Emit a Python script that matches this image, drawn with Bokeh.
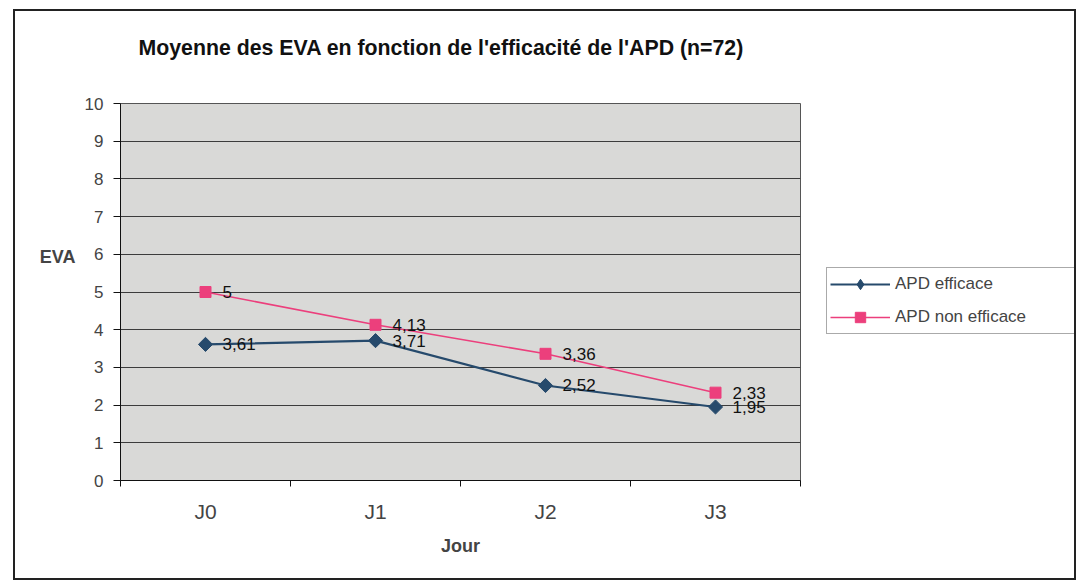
from bokeh.plotting import figure
from bokeh.models import Range1d, FixedTicker, LinearAxis, Legend, LegendItem, ColumnDataSource, Title
from bokeh.layouts import row
from bokeh.core.properties import value
from bokeh.embed import file_html
from bokeh.resources import INLINE

# ---- data ----
days = ["J0", "J1", "J2", "J3"]
efficace = [3.61, 3.71, 2.52, 1.95]
non_efficace = [5, 4.13, 3.36, 2.33]
y_ticks = list(range(0, 11))
title_text = "Moyenne des EVA en fonction de l'efficacité de l'APD (n=72)"
series_names = ["APD efficace", "APD non efficace"]
y_title = "EVA"
x_title = "Jour"

FONT = "Liberation Sans"
NAVY = "#264a6c"
PINK = "#ec3f7c"

xpos = [i + 0.5 for i in range(len(days))]
boundaries = list(range(len(days) + 1))


def fmt(v):
    return f"{v:g}".replace(".", ",")


src_a = ColumnDataSource(dict(x=xpos, y=efficace, lab=[fmt(v) for v in efficace]))
src_b = ColumnDataSource(dict(x=xpos, y=non_efficace, lab=[fmt(v) for v in non_efficace]))

STYLE_A = dict(color=NAVY, line_width=2.2)
STYLE_B = dict(color=PINK, line_width=1.6)
MARK_A = dict(marker="square", angle=0.785398, size=10, color=NAVY)
MARK_B = dict(marker="square", size=11, color=PINK)

p = figure(width=786, height=567,
           x_range=Range1d(0, len(days)), y_range=Range1d(0, 10),
           output_backend="svg", toolbar_location=None,
           min_border_left=105, min_border_right=1, min_border_bottom=98, min_border_top=92,
           background_fill_color="#d9d9d7", border_fill_color="white",
           outline_line_color="#555555", outline_line_width=1)

# titles (spacer first so the real title sits further from the frame)
p.add_layout(Title(text=" ", text_font_size="24px", text_font=FONT), "above")
p.add_layout(Title(text=title_text, text_font_size="21.3px", text_font=FONT,
                   text_font_style="bold", align="left", offset=18, text_color="#111111"), "above")

# y axis
ya = p.yaxis[0]
ya.ticker = FixedTicker(ticks=y_ticks)
ya.major_tick_out = 7
ya.major_tick_in = 0
ya.minor_tick_line_color = None
ya.major_label_text_font_size = "17px"
ya.major_label_text_font = FONT
ya.major_label_standoff = 10
ya.axis_line_color = "#111111"
ya.major_tick_line_color = "#111111"

# horizontal y-axis title, as a second left axis with a single label
ya2 = LinearAxis(ticker=FixedTicker(ticks=[5.92]), major_label_overrides={5.92: y_title},
                 axis_line_color=None, major_tick_line_color=None, minor_tick_line_color=None,
                 major_label_text_font_size="18px", major_label_text_font=FONT,
                 major_label_text_font_style="bold", major_label_standoff=0)
p.add_layout(ya2, "left")

p.ygrid.ticker = FixedTicker(ticks=y_ticks)
p.ygrid.grid_line_color = "#3c3c3c"
p.ygrid.grid_line_width = 1
p.xgrid.visible = False

# x axis: ticks at category boundaries
xa = p.xaxis[0]
xa.ticker = FixedTicker(ticks=boundaries)
xa.major_label_overrides = {b: "" for b in boundaries}
xa.major_label_text_font_size = "1px"
xa.major_label_standoff = 0
xa.major_tick_out = 6
xa.major_tick_in = 0
xa.minor_tick_line_color = None
xa.axis_line_color = "#111111"
xa.major_tick_line_color = "#111111"

# x axis: category labels at centres
xa2 = LinearAxis(ticker=FixedTicker(ticks=xpos),
                 major_label_overrides={x: d for x, d in zip(xpos, days)},
                 axis_line_color=None, major_tick_line_color=None, minor_tick_line_color=None,
                 major_label_text_font_size="21px", major_label_text_font=FONT,
                 major_label_standoff=7,
                 axis_label=x_title, axis_label_text_font_size="18px", axis_label_text_font=FONT,
                 axis_label_text_font_style="bold", axis_label_standoff=10)
p.add_layout(xa2, "below")

# series
p.line("x", "y", source=src_a, **STYLE_A)
p.scatter("x", "y", source=src_a, **MARK_A)
p.line("x", "y", source=src_b, **STYLE_B)
p.scatter("x", "y", source=src_b, **MARK_B)

for s in (src_a, src_b):
    p.text("x", "y", text="lab", source=s, x_offset=17, text_baseline="middle",
           text_font=value(FONT), text_font_size="17px", text_color="#111111")

# legend panel (separate figure so the legend box can sit right of the plot area)
q = figure(width=273, height=567, x_range=Range1d(0, 1), y_range=Range1d(0, 1),
           output_backend="svg", toolbar_location=None,
           min_border_left=0, min_border_right=0, min_border_top=0, min_border_bottom=0,
           background_fill_color="white", border_fill_color="white", outline_line_color=None)
q.axis.visible = False
q.grid.visible = False
# proxy glyphs kept outside the visible range: they only feed the legend
proxy = ColumnDataSource(dict(x=[5, 6], y=[5, 6]))
qa = q.line("x", "y", source=proxy, **STYLE_A)
qma = q.scatter("x", "y", source=proxy, marker="diamond", size=14, color=NAVY)
qb = q.line("x", "y", source=proxy, **STYLE_B)
qmb = q.scatter("x", "y", source=proxy, **MARK_B)

legend = Legend(items=[LegendItem(label=series_names[0], renderers=[qa, qma]),
                       LegendItem(label=series_names[1], renderers=[qb, qmb])],
                location=(25, 146), orientation="vertical",
                glyph_width=60, glyph_height=26, label_height=26, label_width=176,
                label_standoff=5, spacing=7, padding=3, margin=0,
                label_text_font=FONT, label_text_font_size="17px",
                border_line_color="#555555", border_line_width=1,
                background_fill_color="white")
q.add_layout(legend, "center")

layout = row(p, q, spacing=0)
layout.styles = {"border": "2px solid #222222"}
layout.margin = (9, 0, 0, 13)

open("out.html", "w").write(file_html(layout, INLINE))
